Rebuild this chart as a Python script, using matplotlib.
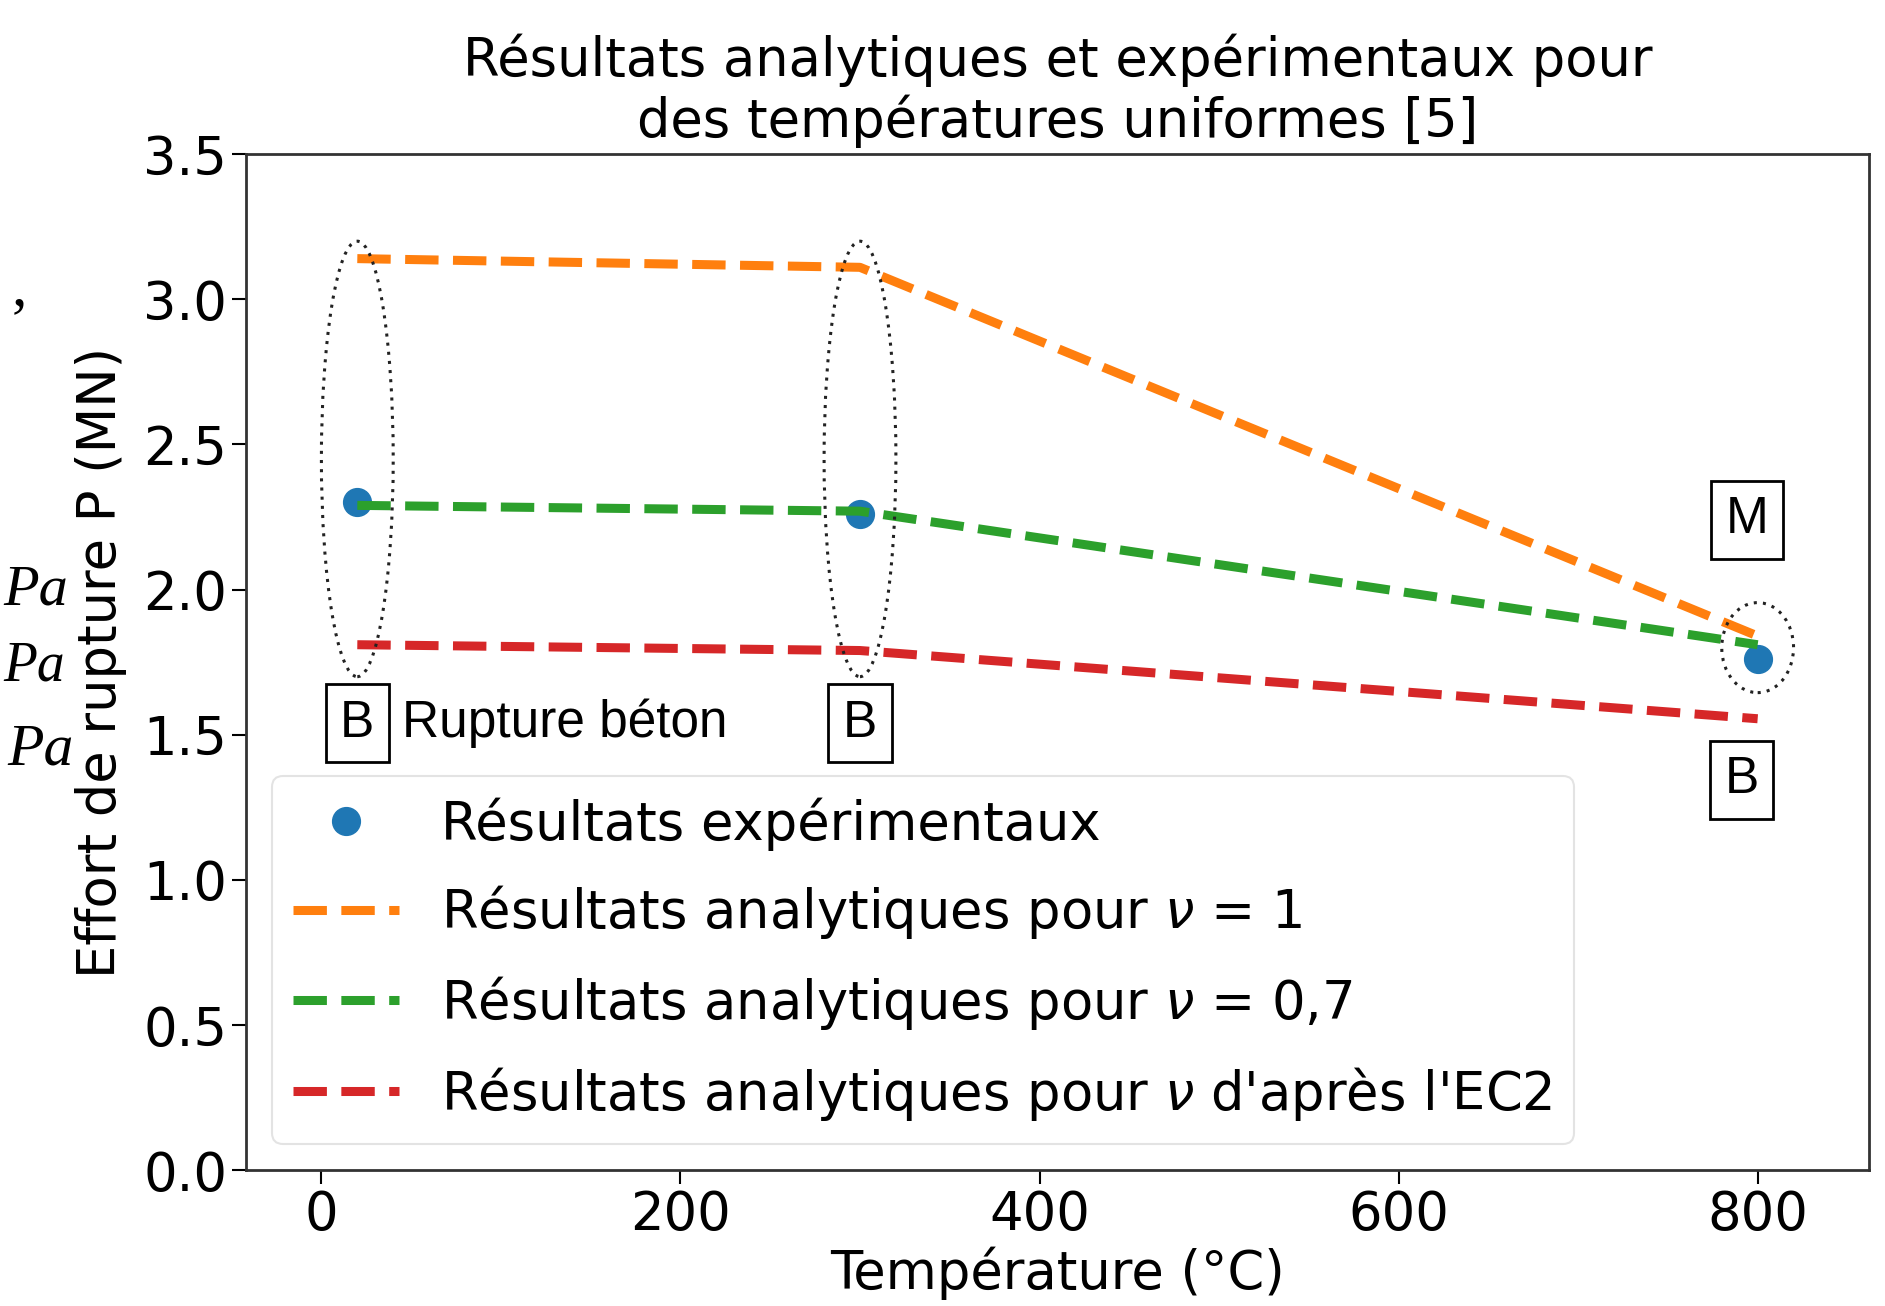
import matplotlib
matplotlib.use("Agg")
import matplotlib.pyplot as plt
from matplotlib.patches import Ellipse

# Data
temps = [20, 300, 800]
exp_vals = [2.30, 2.26, 1.76]
nu1_vals = [3.14, 3.11, 1.84]
nu07_vals = [2.29, 2.27, 1.81]
ec2_vals = [1.81, 1.79, 1.555]

labels = ["Résultats expérimentaux",
          r"Résultats analytiques pour $\nu$ = 1",
          r"Résultats analytiques pour $\nu$ = 0,7",
          r"Résultats analytiques pour $\nu$ d'après l'EC2"]

title = "Résultats analytiques et expérimentaux pour\ndes températures uniformes [5]"
xlabel = "Température (°C)"
ylabel = "Effort de rupture P (MN)"
xticks = [0, 200, 400, 600, 800]
yticks = [0.0, 0.5, 1.0, 1.5, 2.0, 2.5, 3.0, 3.5]

FS = 38
plt.rcParams['font.family'] = ['DejaVu Sans']
plt.rcParams['mathtext.fontset'] = 'dejavusans'

fig = plt.figure(figsize=(18.85, 13.06), dpi=100)
ax = fig.add_axes([0.1305, 0.104, 0.861, 0.778])

ax.plot(temps, exp_vals, 'o', color='#1f77b4', markersize=20, label=labels[0], zorder=3)
lw = 6.5
ax.plot(temps, nu1_vals, '--', color='#ff7f0e', lw=lw, label=labels[1], zorder=4)
ax.plot(temps, nu07_vals, '--', color='#2ca02c', lw=lw, label=labels[2], zorder=4)
ax.plot(temps, ec2_vals, '--', color='#d62728', lw=lw, label=labels[3], zorder=4)

# dotted ellipses
for (cx, cy, w, h) in [(20, 2.45, 40, 1.50), (300, 2.45, 40, 1.50), (800, 1.80, 40, 0.31)]:
    ax.add_patch(Ellipse((cx, cy), w, h, fill=False, ls=(0, (1, 2)), lw=2.2,
                         ec='#222222', zorder=5))

ax.set_xlim(-42, 862)
ax.set_ylim(0, 3.5)
ax.set_xticks(xticks)
ax.set_yticks(yticks)
ax.tick_params(labelsize=FS, width=1.5, length=10)
for s in ax.spines.values():
    s.set_linewidth(2)
    s.set_color('#333333')

ax.set_title(title, fontsize=FS, pad=12, linespacing=1.2)
ax.set_xlabel(xlabel, fontsize=FS, labelpad=4)
ax.set_ylabel(ylabel, fontsize=FS, labelpad=12)

leg = ax.legend(loc='lower left', fontsize=FS, frameon=True, fancybox=True,
                borderpad=0.4, labelspacing=0.62, handlelength=2.0)
leg.get_frame().set_edgecolor('#dddddd')
leg.get_frame().set_linewidth(1.5)

# annotation boxes (added in another tool, Arial-like font)
bb = dict(boxstyle='square,pad=0.28', fc='white', ec='black', lw=2)
afont = ['Liberation Sans']
AF = 37
ax.text(20, 1.54, "B", fontsize=AF, family=afont, ha='center', va='center', bbox=bb, zorder=6)
ax.text(300, 1.54, "B", fontsize=AF, family=afont, ha='center', va='center', bbox=bb, zorder=6)
ax.text(794, 2.24, "M", fontsize=AF, family=afont, ha='center', va='center', bbox=bb, zorder=6)
ax.text(791, 1.345, "B", fontsize=AF, family=afont, ha='center', va='center', bbox=bb, zorder=6)
ax.text(45, 1.54, "Rupture béton", fontsize=AF, family=afont, ha='left', va='center', zorder=6)

# fragments of surrounding document at left edge
sfont = ['Liberation Serif']
fig.text(0.006, 0.778, ",", fontsize=44, family=sfont, ha='left', va='center')
fig.text(0.002, 0.548, "Pa", fontsize=42, family=sfont, style='italic', ha='left', va='center')
fig.text(0.002, 0.490, "Pa", fontsize=40, family=sfont, style='italic', ha='left', va='center')
fig.text(0.004, 0.425, "Pa", fontsize=43, family=sfont, style='italic', ha='left', va='center')

fig.savefig("out.png", dpi=100)
